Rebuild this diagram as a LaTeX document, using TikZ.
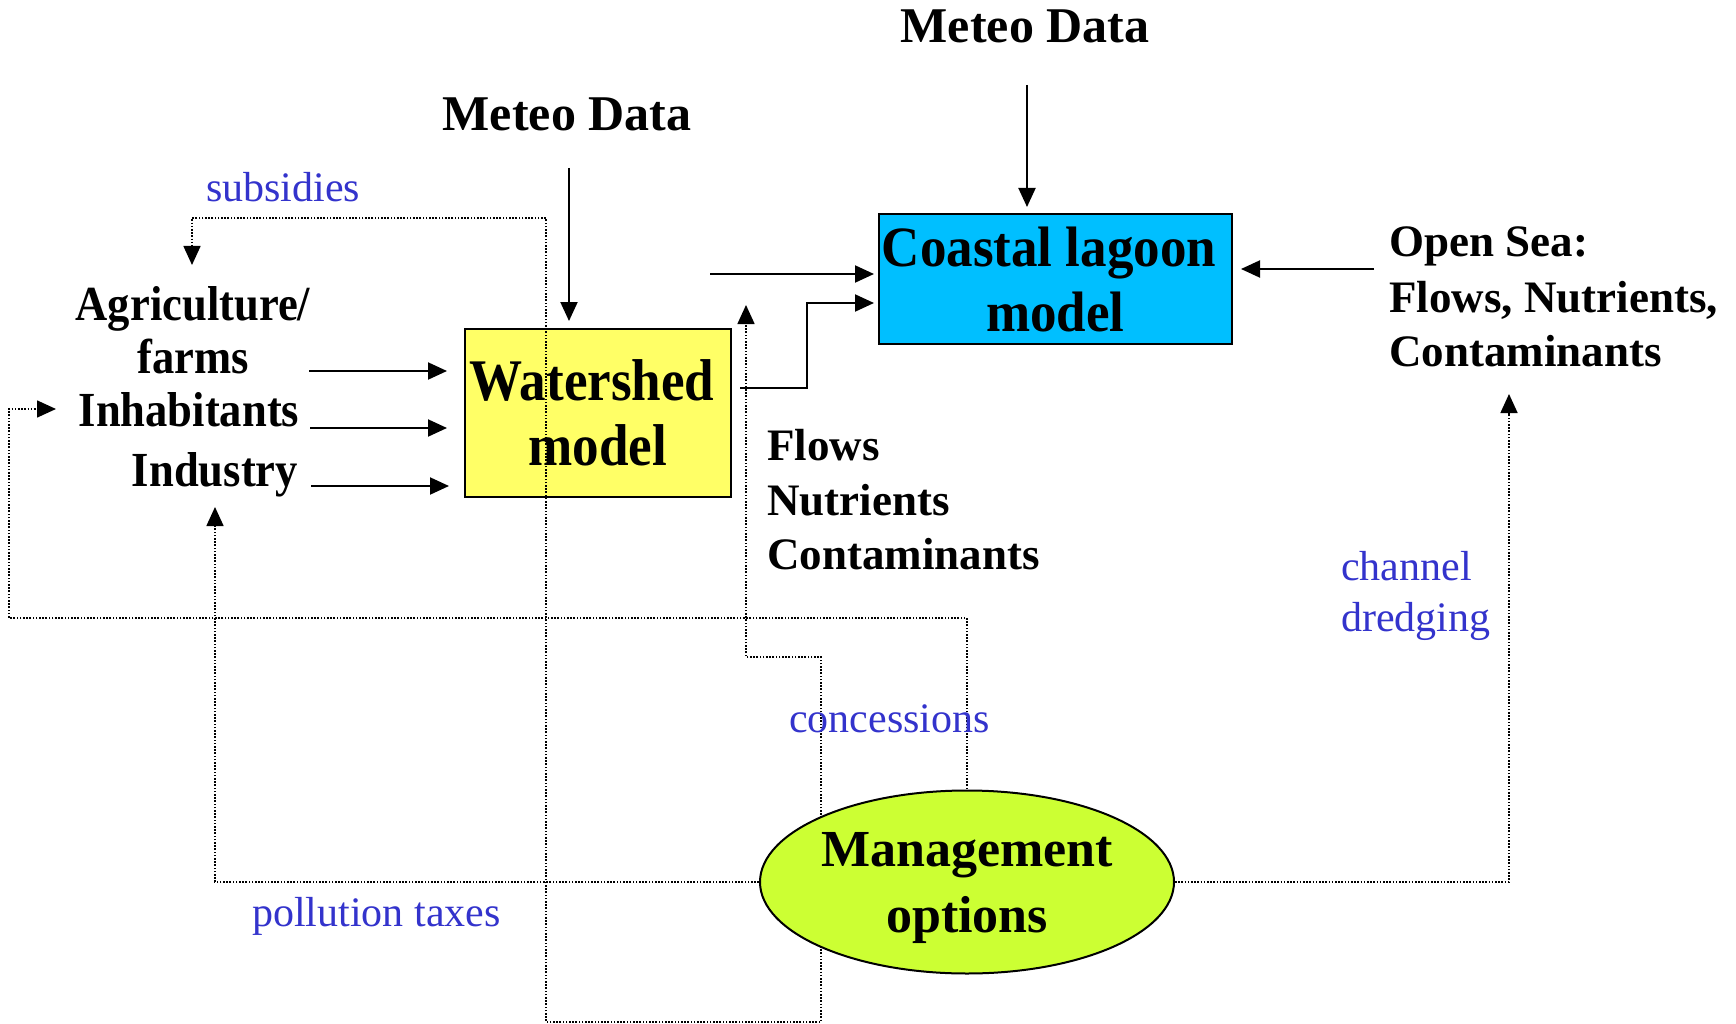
\documentclass[tikz,border=0pt]{standalone}
\usepackage{fontspec}
\setmainfont{Liberation Serif}
\newfontfamily\coastfont[FakeStretch=0.93]{Liberation Serif}
\newfontfamily\wsfont[FakeStretch=0.9]{Liberation Serif}
\newfontfamily\agfont[FakeStretch=0.91]{Liberation Serif}
\usetikzlibrary{arrows.meta,shapes.geometric}
\definecolor{labblue}{RGB}{51,51,204}
\definecolor{wsyellow}{RGB}{255,255,102}
\definecolor{lagblue}{RGB}{0,191,255}
\definecolor{mglime}{RGB}{204,255,51}
\pgfdeclarelayer{bottom}
\pgfdeclarelayer{mid}
\pgfsetlayers{bottom,mid,main}
\begin{document}
\begin{tikzpicture}[x=1pt,y=-1pt,
  bt/.style={inner sep=0pt, font=\fontsize{45}{54}\selectfont\bfseries},
  agtext/.style={inner sep=0pt, font=\agfont\fontsize{49}{54}\selectfont\bfseries},
  bl/.style={inner sep=0pt, text=labblue, font=\fontsize{42}{48}\selectfont},
  sarrow/.style={line width=2pt, -{Triangle[length=19pt,width=17pt]}},
  darrow/.style={line width=1.6pt, dash pattern=on 1.6pt off 1.6pt, -{Triangle[length=19pt,width=17pt]}},
  boxstyle/.style={draw, line width=2pt, inner sep=0pt, align=center, text depth=0pt}]
\useasboundingbox (0,0) rectangle (1736,1024);

% management ellipse (on top of dotted lines)
\node[ellipse, draw, line width=2pt, fill=mglime, minimum width=414pt, minimum height=183pt,
      inner sep=0pt, align=center, text depth=0pt,
      font=\fontsize{52}{66}\selectfont\bfseries] (mg) at (967,882) {Management\\options};

% boxes
\begin{pgfonlayer}{bottom}
\node[boxstyle, fill=wsyellow, minimum width=266pt, minimum height=168pt,
      font=\wsfont\fontsize{59}{65}\selectfont\bfseries] (ws) at (598,413) {Watershed\kern12pt\\model};
\node[boxstyle, fill=lagblue, minimum width=353pt, minimum height=130pt,
      font=\coastfont\fontsize{57}{65}\selectfont\bfseries] (lag) at (1055.5,279) {Coastal lagoon\kern13pt\\model};
\end{pgfonlayer}

% black texts
\node[inner sep=0pt, anchor=base, font=\fontsize{50}{54}\selectfont\bfseries] (met1) at (1025,43) {Meteo Data};
\node[inner sep=0pt, anchor=base, font=\fontsize{50}{54}\selectfont\bfseries] (met2) at (567,131) {Meteo Data};
\node[agtext, anchor=base] (agri) at (193,320) {Agriculture/};
\node[agtext, anchor=base] (farms) at (193,373) {farms};
\node[agtext, anchor=base] (inh) at (189,426) {Inhabitants};
\node[agtext, anchor=base] (ind) at (215,486) {Industry};
\node[bt, anchor=base west] (fl1) at (767,460) {Flows};
\node[bt, anchor=base west] (fl2) at (767,515) {Nutrients};
\node[bt, anchor=base west] (fl3) at (767,569) {Contaminants};
\node[bt, anchor=base west] (os1) at (1389,257) {Open Sea:};
\node[bt, anchor=base west] (os2) at (1389,312) {Flows, Nutrients,};
\node[bt, anchor=base west] (os3) at (1389,366) {Contaminants};

% blue labels
\node[bl, anchor=base west] (sub) at (206,202) {subsidies};
\node[bl, anchor=base west] (con) at (789,732) {concessions};
\node[bl, anchor=base west] (pol) at (252,926) {pollution taxes};
\node[bl, anchor=base west] (ch1) at (1341,580) {channel};
\node[bl, anchor=base west] (ch2) at (1341,631) {dredging};

% coordinates
\coordinate (m1s) at (1027,85);  \coordinate (m1e) at (1027,207);
\coordinate (m2s) at (569,168);  \coordinate (m2e) at (569,321);
\coordinate (a1s) at (309,371);  \coordinate (a1e) at (447,371);
\coordinate (a2s) at (310,428);  \coordinate (a2e) at (447,428);
\coordinate (a3s) at (311,486);  \coordinate (a3e) at (449,486);
\coordinate (l1s) at (710,274);  \coordinate (l1e) at (874,274);
\coordinate (w1s) at (740,388);  \coordinate (wc) at (807,388); \coordinate (l2e) at (874,303);
\coordinate (o1s) at (1374,269); \coordinate (o1e) at (1241,269);
\coordinate (ib1) at (9,618);    \coordinate (inhT) at (56,409);
\coordinate (indT) at (215,507);
\coordinate (seaT) at (1509,394);
\coordinate (kb) at (821,882);   \coordinate (kc) at (746,657); \coordinate (conT) at (746,305);
\coordinate (sb1) at (821,1022); \coordinate (sb2) at (546,218); \coordinate (subT) at (192,265);

% solid arrows
\draw[sarrow] (m1s) -- (m1e);
\draw[sarrow] (m2s) -- (m2e);
\draw[sarrow] (a1s) -- (a1e);
\draw[sarrow] (a2s) -- (a2e);
\draw[sarrow] (a3s) -- (a3e);
\draw[sarrow] (l1s) -- (l1e);
\draw[sarrow] (w1s) -- (wc) |- (l2e);
\draw[sarrow] (o1s) -- (o1e);

% dotted management connectors
\begin{pgfonlayer}{mid}
\draw[darrow] (mg.center) |- (ib1) |- (inhT);
\draw[darrow] (mg.west) -| (indT);
\draw[darrow] (mg.east) -| (seaT);
\draw[darrow] (kb) |- (kc) -- (conT);
\draw[darrow] (kb) -- (sb1) -| (sb2) -| (subT);
\end{pgfonlayer}
\end{tikzpicture}
\end{document}
